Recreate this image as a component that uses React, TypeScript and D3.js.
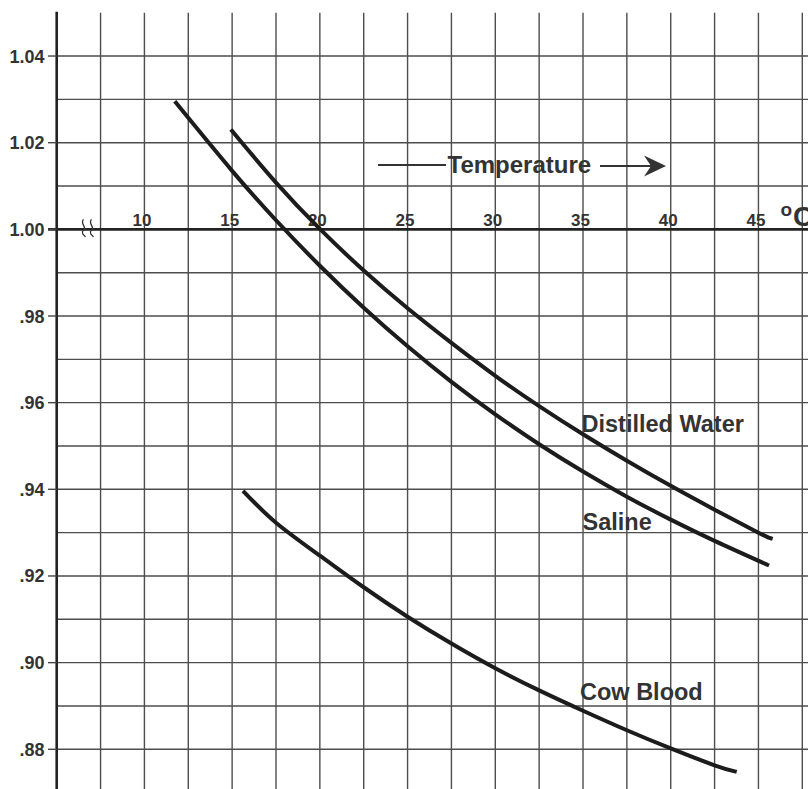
import React, { useEffect, useRef } from 'react';
import * as d3 from 'd3';

// temperature (°C) readings for each curve
const distilledTemps = [15, 17.5, 20, 22.5, 25, 27.5, 30, 32.5, 35, 37.5, 40, 42.5, 45, 45.7];
const distilledValues = [1.0227, 1.0108, 1.0001, 0.9905, 0.9818, 0.9738, 0.9662, 0.9592, 0.9527, 0.9466, 0.9408, 0.9353, 0.93, 0.9287];

const salineTemps = [11.8, 15, 17.5, 20, 22.5, 25, 27.5, 30, 32.5, 35, 37.5, 40, 42.5, 45.5];
const salineValues = [1.0292, 1.0135, 1.0021, 0.9916, 0.9819, 0.973, 0.9648, 0.9573, 0.9504, 0.9441, 0.9383, 0.933, 0.9281, 0.9226];

const bloodTemps = [15.7, 17.5, 20, 22.5, 25, 27.5, 30, 32.5, 35, 37.5, 40, 42.5, 43.65];
const bloodValues = [0.9393, 0.9323, 0.9247, 0.9174, 0.9106, 0.9044, 0.8987, 0.8936, 0.8889, 0.8844, 0.8802, 0.8763, 0.8749];

const xTickValues = [10, 15, 20, 25, 30, 35, 40, 45];
const xTickLabels = ['10', '15', '20', '25', '30', '35', '40', '45'];
const yTickValues = [1.04, 1.02, 1.0, 0.98, 0.96, 0.94, 0.92, 0.9, 0.88];
const yTickLabels = ['1.04', '1.02', '1.00', '.98', '.96', '.94', '.92', '.90', '.88'];

const FONT = '"Liberation Sans", Arial, sans-serif';
const TEXT = '#333';

const App = () => {
  const svgRef = useRef<SVGSVGElement>(null);

  useEffect(() => {
    const width = 808;
    const height = 789;
    const svg = d3.select(svgRef.current);
    svg.selectAll('*').remove();
    svg.attr('width', width).attr('height', height);

    const x = d3.scaleLinear().domain([5, 47.5]).range([56.7, 802.3]);
    const y = d3.scaleLinear().domain([1.05, 0.88]).range([12.7, 749.3]);

    const grid = svg.append('g').attr('stroke', '#4d4d4d').attr('stroke-width', 1.4);

    // vertical grid
    grid.selectAll('.vg')
      .data(d3.range(7.5, 47.6, 2.5))
      .enter()
      .append('line')
      .attr('x1', (d) => x(d))
      .attr('x2', (d) => x(d))
      .attr('y1', y(1.05))
      .attr('y2', height);

    // horizontal grid
    grid.selectAll('.hg')
      .data(d3.range(0, 18).map((i) => 0.87 + i * 0.01).filter((d) => d > 0.875 && Math.abs(d - 1) > 0.001))
      .enter()
      .append('line')
      .attr('x1', x(5))
      .attr('x2', width)
      .attr('y1', (d) => y(d))
      .attr('y2', (d) => y(d));

    // y axis and 1.00 baseline
    svg.append('line')
      .attr('x1', x(5)).attr('x2', x(5))
      .attr('y1', y(1.05) - 1).attr('y2', height)
      .attr('stroke', '#222').attr('stroke-width', 2.6);
    svg.append('line')
      .attr('x1', 48).attr('x2', width)
      .attr('y1', y(1.0)).attr('y2', y(1.0))
      .attr('stroke', '#222').attr('stroke-width', 2.6);

    // y ticks + labels
    svg.selectAll('.yt')
      .data(yTickValues)
      .enter()
      .append('line')
      .attr('x1', 48).attr('x2', x(5))
      .attr('y1', (d) => y(d)).attr('y2', (d) => y(d))
      .attr('stroke', '#444').attr('stroke-width', 1.4);

    svg.selectAll('.yl')
      .data(yTickValues)
      .enter()
      .append('text')
      .attr('x', 44.5)
      .attr('y', (d) => y(d) + 6.5)
      .attr('text-anchor', 'end')
      .attr('font-family', FONT)
      .attr('font-weight', 'bold')
      .attr('font-size', 18)
      .attr('fill', TEXT)
      .text((d, i) => yTickLabels[i]);

    // x labels sit just above the 1.00 line
    svg.selectAll('.xl')
      .data(xTickValues)
      .enter()
      .append('text')
      .attr('x', (d) => x(d) - 2.5)
      .attr('y', y(1.0) - 3.5)
      .attr('text-anchor', 'middle')
      .attr('font-family', FONT)
      .attr('font-weight', 'bold')
      .attr('font-size', 17)
      .attr('fill', TEXT)
      .text((d, i) => xTickLabels[i]);

    // axis break marks
    const y0 = y(1.0);
    [83.5, 91.5].forEach((bx) => {
      svg.append('path')
        .attr('d', `M${bx},${y0 - 10} C${bx - 4},${y0 - 6} ${bx + 4},${y0 - 2} ${bx},${y0 + 1} C${bx - 4},${y0 + 4} ${bx + 4},${y0 + 8} ${bx + 1},${y0 + 7}`)
        .attr('fill', 'none')
        .attr('stroke', '#333')
        .attr('stroke-width', 1.3);
    });

    // °C (cut by the right edge, as in the original)
    svg.append('text')
      .attr('x', 780.5).attr('y', 215.5)
      .attr('font-family', FONT).attr('font-weight', 'bold')
      .attr('font-size', 19).attr('fill', TEXT)
      .text('o');
    svg.append('text')
      .attr('x', 793).attr('y', 225.5)
      .attr('font-family', FONT).attr('font-weight', 'bold')
      .attr('font-size', 28).attr('fill', TEXT)
      .text('C');

    // Temperature heading with arrows
    svg.append('text')
      .attr('x', 447.5).attr('y', 172.5)
      .attr('font-family', FONT).attr('font-weight', 'bold')
      .attr('font-size', 24).attr('fill', TEXT)
      .text('Temperature');
    svg.append('line')
      .attr('x1', 378).attr('x2', 446).attr('y1', 165).attr('y2', 165)
      .attr('stroke', '#333').attr('stroke-width', 2);
    svg.append('line')
      .attr('x1', 600).attr('x2', 652).attr('y1', 166).attr('y2', 166)
      .attr('stroke', '#333').attr('stroke-width', 2);
    svg.append('path')
      .attr('d', 'M666,166 L644,155.5 L651,166 L644,176.5 Z')
      .attr('fill', '#333');

    // curves
    const line = d3.line<[number, number]>()
      .x((d) => x(d[0]))
      .y((d) => y(d[1]))
      .curve(d3.curveNatural);

    const series = [
      { t: distilledTemps, v: distilledValues },
      { t: salineTemps, v: salineValues },
      { t: bloodTemps, v: bloodValues },
    ];
    svg.selectAll('.curve')
      .data(series)
      .enter()
      .append('path')
      .attr('d', (s) => line(s.t.map((t, i) => [t, s.v[i]] as [number, number])))
      .attr('fill', 'none')
      .attr('stroke', '#1c1c1c')
      .attr('stroke-width', 4)
      .attr('stroke-linecap', 'square');

    // series labels
    const labels = [
      { text: 'Distilled Water', x: 581.5, y: 431.5 },
      { text: 'Saline', x: 582.5, y: 530 },
      { text: 'Cow Blood', x: 580, y: 700 },
    ];
    svg.selectAll('.lbl')
      .data(labels)
      .enter()
      .append('text')
      .attr('x', (d) => d.x)
      .attr('y', (d) => d.y)
      .attr('font-family', FONT)
      .attr('font-weight', 'bold')
      .attr('font-size', 23.5)
      .attr('fill', TEXT)
      .text((d) => d.text);
  }, []);

  return (
    <svg
      ref={svgRef}
      style={{ position: 'absolute', left: 0, top: 0, display: 'block', background: '#fff' }}
    ></svg>
  );
};

export default App;
